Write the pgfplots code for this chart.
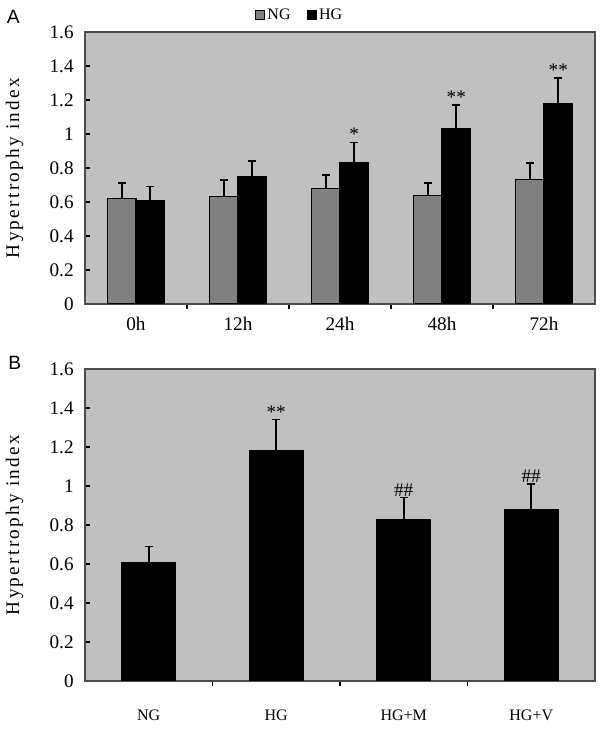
\documentclass[border=0pt]{standalone}
\usepackage{pgfplots}
\pgfplotsset{compat=1.18}
\usepackage{fontspec}
\setmainfont{Liberation Serif}
\setsansfont{Liberation Sans}
\newfontfamily\spaced[LetterSpace=12]{Liberation Serif}
\definecolor{bg}{HTML}{C0C0C0}
\definecolor{ngc}{HTML}{808080}
\begin{document}
\begin{tikzpicture}
\path (0pt,0pt) rectangle (450pt,549pt);
\pgfplotsset{
 myax/.style={
  scale only axis, width=382.5pt,
  axis background/.style={fill=bg},
  axis line style={draw=black!70, line width=0.8pt},
  ymin=0, ymax=1.6, ytick={0,0.2,...,1.6},
  yticklabel style={font=\Large, /pgf/number format/fixed, xshift=-5pt},
  /pgf/number format/assume math mode=true,
  tick style={black, line width=0.8pt},
  major tick length=4pt,
  ytick pos=left, xtick pos=bottom,
  tick align=inside,
  ylabel={\spaced Hypertrophy index},
  ylabel style={font=\Large, at={(axis description cs:-0.138,0.5)}, anchor=center},
  ybar, bar shift=0pt,
  error bars/y dir=plus, error bars/y explicit,
  error bars/error bar style={line width=1.2pt, black},
  error bars/error mark options={rotate=90, mark size=3pt, line width=1.2pt},
 }
}
% Panel A
\begin{axis}[myax, at={(63.75pt,321pt)}, anchor=south west, height=204pt,
  xmin=-0.5, xmax=4.5, xtick={0.5,1.5,2.5,3.5}, xticklabels={},
  extra x ticks={0,1,2,3,4}, extra x tick labels={0h,12h,24h,48h,72h},
  extra x tick style={major tick length=0pt, xticklabel style={font=\Large, yshift=-6pt}},
  bar width=0.28]
\addplot[fill=ngc, draw=black, line width=0.8pt, bar shift=-0.14]
 coordinates {(0,0.62) +- (0,0.09) (1,0.63) +- (0,0.10) (2,0.68) +- (0,0.08) (3,0.64) +- (0,0.07) (4,0.73) +- (0,0.10)};
\addplot[fill=black, draw=black, line width=0.8pt, bar shift=0.14]
 coordinates {(0,0.61) +- (0,0.08) (1,0.75) +- (0,0.09) (2,0.83) +- (0,0.12) (3,1.03) +- (0,0.14) (4,1.18) +- (0,0.15)};
\addplot[draw=none, fill=none, bar shift=0.14, nodes near coords, point meta=explicit symbolic,
  nodes near coords style={font=\Large, inner sep=1pt}]
 table[x=x, y=y, meta=l] {
x y l
2 0.95 {*}
3 1.17 {**}
4 1.33 {**}
};
\end{axis}
% legend
\node[anchor=west, font=\large, inner sep=0pt] at (191pt,538pt) {\tikz\draw[fill=ngc, draw=black] (0,0) rectangle (7pt,7pt);\,NG\quad\tikz\draw[fill=black] (0,0) rectangle (7pt,7pt);\,HG};
\node[font=\sffamily\Large, anchor=west, inner sep=0pt] at (5pt,536pt) {A};
% Panel B
\begin{axis}[myax, at={(63.75pt,38.25pt)}, anchor=south west, height=234pt,
  xmin=-0.5, xmax=3.5, xtick={0.5,1.5,2.5}, xticklabels={},
  extra x ticks={0,1,2,3}, extra x tick labels={NG,HG,HG+M,HG+V},
  extra x tick style={major tick length=0pt, xticklabel style={font=\large, yshift=-18pt}},
  bar width=0.42]
\addplot[fill=black, draw=black, line width=0.8pt]
 coordinates {(0,0.61) +- (0,0.08) (1,1.18) +- (0,0.16) (2,0.83) +- (0,0.11) (3,0.88) +- (0,0.13)};
\addplot[draw=none, fill=none, nodes near coords, point meta=explicit symbolic,
  nodes near coords style={font=\Large, inner sep=1pt}]
 table[x=x, y=y, meta=l] {
x y l
1 1.34 {**}
2 0.94 {\#\#}
3 1.01 {\#\#}
};
\end{axis}
\node[font=\sffamily\Large, anchor=west, inner sep=0pt] at (6pt,277pt) {B};
\end{tikzpicture}
\end{document}
